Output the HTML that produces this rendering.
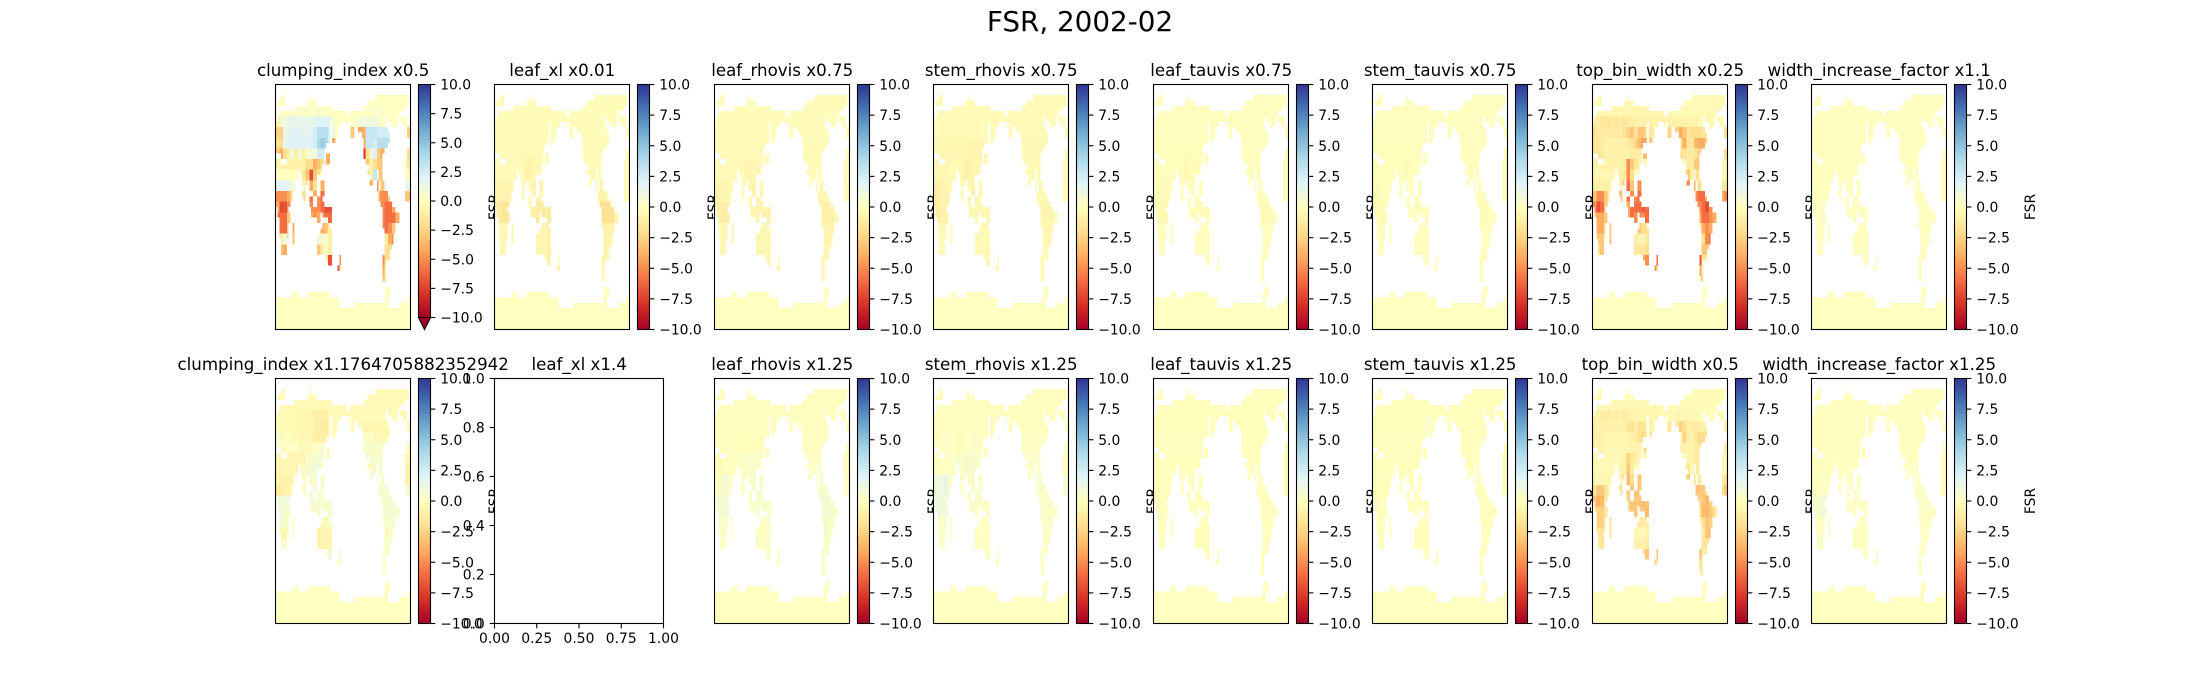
<!DOCTYPE html>
<html lang="en">
<head>
<meta charset="utf-8">
<title>FSR, 2002-02</title>
<style>
html,body{margin:0;padding:0;background:#fff;width:2200px;height:700px;overflow:hidden}
svg{display:block;position:absolute;left:0;top:0}
text{font-family:"DejaVu Sans","Liberation Sans",sans-serif;fill:#000}
</style>
</head>
<body>
<svg id="figure" width="2200" height="700" viewBox="0 0 2200 700" xmlns="http://www.w3.org/2000/svg">
<defs>
<linearGradient id="rdylbu" x1="0" y1="1" x2="0" y2="0">
<stop offset="0" stop-color="#a50026"/><stop offset="0.1" stop-color="#d73027"/><stop offset="0.2" stop-color="#f46d43"/><stop offset="0.3" stop-color="#fdae61"/><stop offset="0.4" stop-color="#fee090"/><stop offset="0.5" stop-color="#ffffbf"/><stop offset="0.6" stop-color="#e0f3f8"/><stop offset="0.7" stop-color="#abd9e9"/><stop offset="0.8" stop-color="#74add1"/><stop offset="0.9" stop-color="#4575b4"/><stop offset="1" stop-color="#313695"/>
</linearGradient>
</defs>
<text x="1080" y="31" text-anchor="middle" font-size="27.8">FSR, 2002-02</text>
</svg>
<script>
const panelTitles=["clumping_index x0.5","leaf_xl x0.01","leaf_rhovis x0.75","stem_rhovis x0.75","leaf_tauvis x0.75","stem_tauvis x0.75","top_bin_width x0.25","width_increase_factor x1.1","clumping_index x1.1764705882352942","leaf_xl x1.4","leaf_rhovis x1.25","stem_rhovis x1.25","leaf_tauvis x1.25","stem_tauvis x1.25","top_bin_width x0.5","width_increase_factor x1.25"];
const colorbarTicks=[10,7.5,5,2.5,0,-2.5,-5,-7.5,-10];
const emptyAxisTicks=[0,0.25,0.5,0.75,1];
const emptyAxisYTicks=[0,0.2,0.4,0.6,0.8,1];
const colormapStops=["#a50026","#d73027","#f46d43","#fdae61","#fee090","#ffffbf","#e0f3f8","#abd9e9","#74add1","#4575b4","#313695"];
const landRuns=[[],[],[3,5,18,19,53,71],[1,5,17,22,49,71],[10,30,47,69],[2,38,40,66],[1,59,60,65,66,70],[0,29,30,35,38,39,40,59,62,65,68,70],[0,29,30,33,40,42,44,60,70,72],[0,29,30,33,40,42,46,61,70,72],[0,29,30,32,47,61],[0,27,47,60],[0,26,47,58,70,72],[3,26,27,29,47,57,70,72],[0,3,6,26,27,29,48,57,69,72],[0,25,50,57,69,72],[0,12,13,25,49,54,55,57,69,72],[0,12,14,22,51,54,55,57,69,72],[0,10,14,17,18,22,24,26,50,52,54,55,56,58,69,72],[0,10,15,16,18,22,24,26,54,55,56,58,69,72],[0,9,14,16,20,22,24,26,55,60,69,72],[0,9,15,16,18,20,22,25,55,61,69,72],[0,8,18,20,22,26,56,62],[1,7,19,30,57,64],[1,8,19,24,25,30,57,66],[2,8,22,24,28,30,57,66],[2,7,9,10,25,29,57,64],[2,7,9,10,24,30,58,64],[2,7,9,10,22,30,58,63],[3,6,9,10,22,30,58,63],[3,6,22,30,58,62],[3,6,22,30,58,61],[27,30,34,35,57,61],[28,30,34,35,57,59],[33,35,57,59],[57,59],[57,59],[],[59,61],[9,12,17,29,58,61],[0,34,58,60,70,72],[0,34,42,60,66,72],[0,72],[0,72],[0,72],[0,72]];

const clumpingHalf=[
[],
[-.3,-.3,0,0,.3,.3,.3,.3,.3,.3,.3,.3,.3,.3,0,0,0,0,0,0,0,0,0,0,0,.3,.3,.3,.3],
[-1,1,1,1.5,1.5,1.5,1.5,1.5,1.5,1.5,1.5,2,2,2,1.5,.5,0,0,0,0,0,.5,1,1,1,1,1,1],
[-2.5,-2.5,1.5,1.5,2,2,2,1.5,1.5,2,2.5,3.5,3.5,3.5,2.5,1,-.3,0,0,0,-3,0,-4,-4,3,3,3,2.5,2.5,2.5,2.5,0,0,0,0,-2.5],
[-2,-2,1.5,2,2,2,2,2,2,2,2.5,4,4.5,4,2.5,-4,0,0,0,0,0,0,0,-4,3,3,2.5,3.5,3.5,3.5,3,1,0,0,0,0],
[-3,-4,-2,-1,1,-1,1,-1,.5,1,1,2.5,2.5,-4,-4,0,0,0,0,0,0,0,0,-8,-2,1,2,-3,-4,0,0,0,0,0,0,-2],
[-1,-.5,-1,-1,-1,-1,-1,-1,-2,-2,-4,-3,-2,-4,-4,0,0,0,0,0,0,0,0,0,-3,-1,-2,-3,-3,0,0,0,0,0,0,-1.5],
[0,0,0,0,0,0,-.5,-1.5,-3,-7,-3,-2,0,0,0,0,0,0,0,0,0,0,0,0,-2,-1,3,-3,-3,0,0,0,0,0,0,0],
[2,2,2,1.5,1,1,0,-.5,-2,-4,-2,0,-4,0,0,0,0,0,0,0,0,0,0,0,0,-4,0,-5,-3,-3,0,0,0,0,1.5,1.5],
[-5,-5,-5,-4,-2,.5,0,-2,0,-6,-4,-5,-6,0,0,0,0,0,0,0,0,0,0,0,0,0,0,-4,-5,-5,-3,0,0,0,-3,-3],
[-4,-7,-7,-5,-1,0,0,0,0,-5,-5,-5,-6,-7,-7,0,0,0,0,0,0,0,0,0,0,0,0,0,-5,-6,-6,-4],
[-6,-6,-6,-3,0,0,0,0,0,-4,-5,-4,-5,-6,-6,0,0,0,0,0,0,0,0,0,0,0,0,0,-5,-6,-6,-6,-4],
[0,-6,-6,-3,-4,0,0,0,0,0,0,0,-4,-3,-1,0,0,0,0,0,0,0,0,0,0,0,0,0,-5,-6,-5,-3],
[0,-1,1,-2,-3,0,0,0,0,0,0,1,.5,.5,-1,0,0,0,0,0,0,0,0,0,0,0,0,0,0,-1,-4,-5],
[0,-3,-4,0,0,0,0,0,0,0,0,-3,-1,.5,-1,0,0,0,0,0,0,0,0,0,0,0,0,0,0,-2,-2],
[0,0,0,0,0,0,0,0,0,0,0,0,0,-2,-7,0,0,-5,0,0,0,0,0,0,0,0,0,0,-5,-2,-2],
[0,0,0,0,0,0,0,0,0,0,0,0,0,0,0,0,-7,-1,0,0,0,0,0,0,0,0,0,0,-4,-1],
[0,0,0,0,0,0,0,0,0,0,0,0,0,0,0,0,0,0,0,0,0,0,0,0,0,0,0,0,-3,-2]];

const topBinQuarter=[
[],
[-.6,-.6,-.6,-.6,-.6,-.6,-.6,-.6,-.6,-.6,-.6,-.6,-.6,-.6,-.6,-.6,-.6,-.6,-.4],
[-1.2,-1.2,-1.7,-1.7,-1.7,-1.2,-1.7,-1.2,-1.7,-1.2,-1.2,-.8,-.8,-.8,-.8,-.8,-.8,-.8,-.8,-.8,-.8,-.8,-.8,-.8,-.8,-.8,-.8,-.8],
[-1.7,-1.2,-1.2,-1.2,-1.2,-1.2,-1.2,-1.2,-1.7,-2.5,-3,-1.7,-3,-3,-1.5,-1.5,-1,,,,-2.5,-2,-2.5,-4,-3,-1.7,-2,-2,-2,-1.7,-1.7,,,,,-2],
[-1.7,-1.7,-1.2,-.8,-.8,-.8,-.8,-.8,-.8,-1.2,-1.7,-2.5,-3.5,-4.5,-3.5,-3,,,,,,,,-2,-4,-1.7,-1.5,-3.5,-4,-4,-3],
[-1.7,-1.7,-1.2,-.8,-.8,-.8,-.8,-.8,-.8,-.8,-1.2,-1.2,-1.2,-3.5,-3.5,,,,,,,,,-2,-1.7,-1.2,-1.2,-1.7,-2.5,,,,,,,-2],
[-.8,-.8,-.8,-.8,-.8,-.8,-.8,-.8,-1.2,-5,-3,-1.7,-1.2,,,,,,,,,,,,,-1.2,-1.2,-3,-3,,,,,,-.5,-.5],
[-.5,-.5,-.5,-.5,-.5,-.5,-.5,-1,-1.5,-5,-2,,,,,,,,,,,,,,-.5,-3,-1,-2,-2,,,,,,-.5,-.5],
[-1,-1,-1,-1,-1,-1,,-1,-3,-6,-3,,-5,,,,,,,,,,,,,-5,,-4,-2,-2,,,,,-1.5,-1.5],
[-3,-5,-5,-3,-1.5,-1,,-3,,-6,-5,-5,-6,,,,,,,,,,,,,,,-5,-6,-6,-4,,,,-4,-5],
[-5,-7,-6,-3,,,,,,-4,-6,-6,-6,-6.5,-6,,,,,,,,,,,,,,-5,-6,-7,-5],
[-3,-4,-4,-3,,,,,,-4,-6,-5,-5,-5,-6,,,,,,,,,,,,,,-4,-6,-6,-5,-4],
[,-4,-4,-2,-3,,,,,,,,-3,-2,-2,,,,,,,,,,,,,,-1,-4,-5,-4],
[,-3,-3,-1,-3,,,,,,,-1,-.7,-.7,-1.5,,,,,,,,,,,,,,,-2,-5,-6],
[,-2,-3,,,,,,,,,-1.5,-1.5,-1.5,-2,,,,,,,,,,,,,,,-3,-3],
[,,,,,,,,,,,,,-4,-5,,,-6,,,,,,,,,,,-7,-1.5,-2],
[,,,,,,,,,,,,,,,,-5,-1,,,,,,,,,,,-4,-1],
[,,,,,,,,,,,,,,,,,,,,,,,,,,,,-1,-3]];

const topBinHalf=[
[],
[-.5,-.5,-.5,-.5,-.5,-.5,-.5,-.5,-.5,-.5,-.5,-.5,-.5,-.5,-.5,-.5,-.5,-.5,-.3],
[-.8,-.8,-1.2,-1.2,-1.2,-.8,-1.2,-.8,-1.2,-.8,-.8,-.6,-.6,-.6,-.6,-.6,-.6,-.4,-.4,-.4,-.4,-.4,-.5,-.5,-.5,-.5,-.5,-.5],
[-1,-.8,-.8,-.8,-.8,-.8,-.8,-.8,-1,-1.5,-1.7,-1,-1.7,-1.7,-.8,-.8,-.5,,,,-1.5,-1,-1.2,-2.5,-2,-1,-1.2,-1.2,-1.2,-1,-1,,,,,-1],
[-1,-1,-.8,-.5,-.5,-.5,-.5,-.5,-.5,-.8,-1,-1.2,-1.7,-2.2,-1.7,-1.5,,,,,,,,-1,-2.5,-1,-.8,-1.7,-2.2,-2.2,-1.7],
[-1,-1,-.8,-.5,-.5,-.5,-.5,-.5,-.5,-.5,-.8,-.8,-.8,-1.7,-1.7,,,,,,,,,-1,-1,-.8,-.8,-1,-1.5,,,,,,,-1],
[-.5,-.5,-.5,-.5,-.5,-.5,-.5,-.5,-.8,-2.5,-1.5,-1,-.8,,,,,,,,,,,,,-.8,-.8,-1.5,-1.5,,,,,,-.4,-.4],
[-.4,-.4,-.4,-.4,-.4,-.4,-.4,-.7,-1,-3,-1.2,,,,,,,,,,,,,,-.4,-1.7,-.7,-1.2,-1.2,,,,,,-.4,-.4],
[-.6,-.6,-.6,-.6,-.6,-.6,,-.6,-2,-3.5,-2,,-3,,,,,,,,,,,,,-3,,-2,-1.2,-1.2,,,,,-1,-2],
[-1.7,-3,-3,-1.7,-1,-.6,,-1.7,,-3,-3,-3,-3,,,,,,,,,,,,,,,-3,-3,-3,-2,,,,-2,-3],
[-3,-4,-3.5,-1.7,,,,,,-2.5,-3,-3,-3,-3.5,-3,,,,,,,,,,,,,,-2.5,-3,-3.5,-2.5],
[-1.7,-2.5,-2.5,-1.7,,,,,,-2,-3,-3,-3,-3,-3.5,,,,,,,,,,,,,,-2,-3.5,-3.5,-3,-2],
[,-2.5,-2.5,-1.2,-1.7,,,,,,,,-1.7,-1.2,-1.2,,,,,,,,,,,,,,-.6,-2,-3,-2.5],
[,-1.7,-1.7,-.6,-1.7,,,,,,,-.6,-.4,-.4,-.8,,,,,,,,,,,,,,,-1.2,-3,-3.5],
[,-1.2,-1.7,,,,,,,,,-.8,-.8,-.8,-1.2,,,,,,,,,,,,,,,-1.7,-1.7],
[,,,,,,,,,,,,,-2,-3,,,-3,,,,,,,,,,,-3.5,-1,-1.2],
[,,,,,,,,,,,,,,,,-2.5,-.6,,,,,,,,,,,-2,-.6],
[,,,,,,,,,,,,,,,,,,,,,,,,,,,,-.6,-1.7]];

const clumpingHigh=[
[],
[-.3,-.4,-.4,-.4,-.4,-.4,-.4,-.4,,,,-.3,-.3,-.3,-.3],
[-.4,-.4,-.4,-.6,-.6,-1,-1,-.3,,,-.3,-.3,-.3,-.3,-.3],
[-.3,-.4,-.4,-.6,-.6,-1,-1.2,-.4,,,,-.5,-.6,-.6,-.6],
[.5,-.1,-.4,-.5,-.5,-1,-1,-.3,,,,-.3,.3,-.4,-.4],
[.5,-.1,.2,-.3,-.3,.2,.5,,,,,.3,.4,.4,.3,,,-.3],
[-.6,-.6,-.6,-.6,.4,.5,.6,,,,,,.5,.5,.5,,,-.5],
[-.6,-.6,-.6,-.3,.7,.8,,,,,,,,.8,.5,,,-.8],
[-.8,-.8,-.6,,.5,.6,.6,,,,,,.8,.8,.5,,,-.8],
[-1.2,-.8,-.3,,.5,.6,.6,,,,,,,.6,.7,.5,,.7],
[1,1,-.1,,.5,.5,.5,.5,,,,,,,.6,.6],
[1,.5,-.1,,,.5,.5,.5,,,,,,,.6,.7,.6],
[.7,.3,-.2,,,,-.4,.5,,,,,,,.4,.6],
[-.6,-.6,.3,,,-1,-.7,-.6,,,,,,,,.5],
[.3,.3,,,,-.7,-.7,-.5,,,,,,,.3,.5],
[,,,,,,.2,1,.5,,,,,,.3],
[,,,,,,,.3,-.3,,,,,,.2],
[,,,,,,,,,,,,,,.2]];

const leafXlLow=[
[],
[-.2,-.2,-.2,-.2,-.2,-.2,-.2,-.2,,,,-.2,-.2,-.2,-.2],
[-.3,-.3,-.3,-.3,-.3,-.3,-.3,,,,,,-.2,-.2,-.2],
[-.3,-.3,-.3,-.3,-.8,-.5,-.3,,,,,,-.3,-.3,-.3],
[-.7,-.7,-.7,-.3,-.5,-.7,-.7,,,,,,,-.7,-.8,-.3,,-.3],
[-1.2,-1.6,-.4,,-.5,-1.2,-1.2,-1.2,,,,,,,-1.8,-1.8,-.7],
[-.3,-.5,-.5,,,-.6,-.6,-.8,,,,,,,-.8,-.8],
[-.5,-.5,,,,-.6,-.6,-.8,,,,,,,-.8,-.5],
[,,,,,,,-.5,-.8,,,,,,-.3]];

const leafRhovisLow=[
[],
[-.2,-.2,-.2,-.2,-.2,-.2,-.2,,,,,-.2,-.2,-.2,-.2],
[-.3,-.3,-.3,-.3,-.3,-.3,-.3,,,,,,-.3,-.3,-.3],
[-.3,-.3,-.3,-.3,-.7,-.5,-.3,,,,,,-.3,-.3,-.3],
[-.7,-.5,-.4,-.3,-.5,-.7,-.5,,,,,,,-.5,-.5,-.3,,-.3],
[-.9,-1.1,-.3,,-.4,-.7,-.7,-.7,,,,,,,-.9,-.9,-.5],
[-.3,-.5,-.5,,,-.5,-.5,-.5,,,,,,,-.7,-.7],
[-.5,-.5,,,,-.5,-.5,-.6,,,,,,,-.5,-.5],
[,,,,,,,-.5,-.7,,,,,,-.5]];

const stemRhovisLow=[
[],
[-.3,-.4,-.4,-.4,-.4,-.4,-.3,,,,,-.3,-.3,-.3,-.3],
[-.5,-.5,-.6,-.6,-.6,-.7,-.6,,,,,,-.5,-.5,-.4],
[-.5,-.5,-.4,-.4,-.8,-.6,-.5,,,,,,-.4,-.4,-.4],
[-1,-.7,-.5,-.3,-.5,-.7,-.5,,,,,,,-.5,-.5,-.3,,-.4],
[-1.2,-.8,-.3,,-.4,-.5,-.5,-.5,,,,,,,-.7,-.7,-.4],
[-.3,-.4,-.4,,,-.4,-.4,-.4,,,,,,,-.4,-.5],
[-.3,-.3,,,,-.4,-.4,-.5,,,,,,,-.4,-.4],
[,,,,,,,-.4,-.5,,,,,,-.4]];

const leafRhovisHigh=[
[],
[,,,,,,,,,,,,,,],
[,,,-.15,-.15,-.15,,,,,,,-.1,-.1,-.1],
[-.2,-.1,-.1,.1,.4,.4,.2,,,,,,.2,.2,.1],
[.2,.6,.2,,.4,.5,.5,,,,,,,.4,.5,.2,,.2],
[.7,.8,.2,,.1,.5,.5,.3,,,,,,,.7,.7,.3],
[.3,.3,.2,,,.1,.1,.4,,,,,,,.5,.4],
[.2,.2,,,,0,.2,.5,,,,,,,.5,.5],
[,,,,,,,.5,.3,,,,,,.3]];

const stemRhovisHigh=[
[],
[-.1,-.1,,,,,,,,,,,,,],
[,.2,.2,-.15,.2,.3,-.1,,,,,,.1,.2,.1],
[-.15,0,.2,.4,.5,.5,.4,,,,,,.3,.4,.3],
[1,1.3,.3,,.4,.3,.3,,,,,,,.3,.3,.2,,.7],
[1.1,.9,.3,,.1,.3,.3,.3,,,,,,,.4,.4,.2],
[.3,.3,.2,,,0,0,.1,,,,,,,.3,.3],
[.2,.2,,,,-.1,0,0,,,,,,,.2,.2],
[,,,,,,,0,-.1,,,,,,.1]];

const leafTauvisLow=[
[],
[],
[-.15,-.15,-.15,-.15,-.15,-.15,-.15],
[-.15,-.15,-.15,-.15,-.4,-.2,-.15],
[-.2,-.2,-.15],
[-.3,-.4,-.15,,,-.2,-.2,-.2,,,,,,,-.3,-.3],
[],[],[]];

const stemTauvisLow=[
[],
[],
[-.15,-.15,-.15,-.15,-.15,-.15,-.15],
[-.15,-.15,-.15,-.15,-.25,-.15,-.15],
[-.2,-.15,-.15],
[-.2,-.3,-.15,,,-.15,-.15,-.15,,,,,,,-.2,-.2],
[],[],[]];

const widthFactorLow=[
[],
[],
[],
[],
[-.1,-.05,-.1],
[.1,.3,-.05,,,.1,.1,.1,,,,,,,.1,.1],
[],[],[]];

const leafTauvisHigh=[
[],
[],
[-.1,-.1,-.1,-.1,-.1,-.1,-.1],
[],
[],
[-.1,-.1,-.05,,,,,,,,,,,,-.1,-.1],
[],[],[]];

const stemTauvisHigh=[
[],
[],
[-.1,-.1,-.1,-.1,-.1,-.1,-.1],
[],
[],
[-.1,-.05,-.05,,,,,,,,,,,,-.1,-.1],
[],[],[]];

const widthFactorHigh=[
[],
[],
[-.05,-.05,-.05,-.05,-.05,-.05,-.05],
[-.05,-.05,0,0,.1,.1,.1,,,,,,0,0,0],
[.1,.1,0,,.2,.2,.2,,,,,,,.2,.2],
[.4,.7,.1,,.1,.2,.2,.2,,,,,,,.3,.3],
[.2,.2,.1,,,0,.1,.2,,,,,,,.2,.2],
[.1,.1,,,,-.05,.1,.2,,,,,,,.2,.2],
[]];

const panelFields=[clumpingHalf,leafXlLow,leafRhovisLow,stemRhovisLow,leafTauvisLow,stemTauvisLow,topBinQuarter,widthFactorLow,clumpingHigh,null,leafRhovisHigh,stemRhovisHigh,leafTauvisHigh,stemTauvisHigh,topBinHalf,widthFactorHigh];
const fieldColumns=[36,18,18,18,18,18,36,18,18,0,18,18,18,18,36,18];
const fieldBase=[0,-.2,-.25,-.3,-.1,-.1,-.4,-.05,-.3,0,-.1,-.1,-.08,-.08,-.25,-.05];
const antarcticValue=0;

const SVGNS="http://www.w3.org/2000/svg";
const fig=document.getElementById("figure");
const GRID_ROWS=46,GRID_COLS=72,FIELD_FIRST_ROW=2,FIELD_ROW_COUNT=36;
const AXES_W=135,AXES_H=245,TICK=4.86,PAD=4.86;
const ROW_TOP=[84,378];
function panelLeft(i){return Math.round(275.7+219.5*i)-1}
function mk(tag,attrs,parent){const e=document.createElementNS(SVGNS,tag);for(const k in attrs)e.setAttribute(k,attrs[k]);(parent||fig).appendChild(e);return e}
function hexToRgb(h){return [parseInt(h.slice(1,3),16),parseInt(h.slice(3,5),16),parseInt(h.slice(5,7),16)]}
function colorFor(v){
  let t=(Math.max(-10,Math.min(10,v))+10)/20*(colormapStops.length-1);
  const a=Math.min(Math.floor(t),colormapStops.length-2),f=t-a;
  const p=hexToRgb(colormapStops[a]),q=hexToRgb(colormapStops[a+1]);
  return "rgb("+p.map((c,n)=>Math.round(c+(q[n]-c)*f)).join(",")+")";
}
function valueAt(panel,r,c){
  if(r<FIELD_FIRST_ROW||r>=FIELD_FIRST_ROW+FIELD_ROW_COUNT)return antarcticValue;
  const rows=panelFields[panel];
  const row=rows[Math.floor((r-FIELD_FIRST_ROW)*rows.length/FIELD_ROW_COUNT)]||[];
  const v=row[Math.floor(c*fieldColumns[panel]/GRID_COLS)];
  return v===undefined?fieldBase[panel]:v;
}
function fmtTick(v,dec){return (v<0?"\u2212":"")+Math.abs(v).toFixed(dec)}

function drawHeatmap(panel,left,top){
  const g=mk("g",{});
  
  
  const bg=mk("rect",{x:left,y:top,width:AXES_W,height:AXES_H,fill:"#fff"},g);
  
  
  const xCol=c=>left+.5+c*AXES_W/GRID_COLS,yRow=r=>top+.5+r*AXES_H/GRID_ROWS;
  landRuns.forEach((runs,r)=>{
    for(let n=0;n<runs.length;n+=2){
      for(let c=runs[n];c<runs[n+1];c++){
        const cell=mk("rect",{x:xCol(c),y:yRow(r),width:AXES_W/GRID_COLS,height:AXES_H/GRID_ROWS,fill:colorFor(valueAt(panel,r,c)),"shape-rendering":"crispEdges"},g);
        
        
      }
    }
  });
  const frame=mk("rect",{x:left+.5,y:top+.5,width:AXES_W,height:AXES_H,fill:"none",stroke:"#000","stroke-width":1.1},g);
  
  
}
function drawColorbar(panel,left,top,extendLow){
  const cbL=left+143,cbW=12,barH=extendLow?233:AXES_H;
  const yVal=v=>top+.5+(10-v)/20*barH;
  const g=mk("g",{});
  
  
  const bar=mk("rect",{x:cbL+.5,y:top+.5,width:cbW,height:barH,fill:"url(#rdylbu)",stroke:"#000","stroke-width":1.1},g);
  
  
  if(extendLow){
    const tri=mk("polygon",{points:(cbL+.5)+","+(top+.5+barH)+" "+(cbL+cbW+.5)+","+(top+.5+barH)+" "+(cbL+cbW/2+.5)+","+(top+AXES_H+.5),fill:"#a50026",stroke:"#000","stroke-width":1.1},g);
    
    
  }
  colorbarTicks.forEach(v=>{
    const y=yVal(v);
    const t=mk("line",{x1:cbL+cbW+.5,x2:cbL+cbW+.5+TICK,y1:y,y2:y,stroke:"#000","stroke-width":1.1},g);
    
    
    const l=mk("text",{x:cbL+cbW+.5+TICK+PAD,y:y+5,"font-size":13.89},g);
    l.textContent=fmtTick(v,1);
    
    
  });
  if(panel!==undefined){
    const lx=cbL+cbW+69,ly=top+AXES_H/2+.5;
    const lab=mk("text",{x:lx,y:ly,"font-size":13.89,"text-anchor":"middle",transform:"rotate(-90 "+lx+" "+ly+")"},g);
    lab.textContent="FSR";
    
    
  }
}
function drawEmptyAxes(left,top){
  const W=169,g=mk("g",{});
  
  
  const bg=mk("rect",{x:left+.5,y:top+.5,width:W,height:AXES_H,fill:"#fff",stroke:"#000","stroke-width":1.1},g);
  
  
  const xS=v=>left+.5+v*W,yS=v=>top+.5+AXES_H-v*AXES_H;
  emptyAxisTicks.forEach(v=>{
    const t=mk("line",{x1:xS(v),x2:xS(v),y1:top+AXES_H+.5,y2:top+AXES_H+.5+TICK,stroke:"#000","stroke-width":1.1},g);
    
    
    const l=mk("text",{x:xS(v),y:top+AXES_H+20,"font-size":13.89,"text-anchor":"middle"},g);
    l.textContent=v.toFixed(2);
    
    
  });
  emptyAxisYTicks.forEach(v=>{
    const t=mk("line",{x1:left+.5,x2:left+.5-TICK,y1:yS(v),y2:yS(v),stroke:"#000","stroke-width":1.1},g);
    
    
    const l=mk("text",{x:left+.5-TICK-PAD,y:yS(v)+5,"font-size":13.89,"text-anchor":"end"},g);
    l.textContent=v.toFixed(1);
    
    
  });
}
panelTitles.forEach((title,p)=>{
  const col=p%8,rowIndex=p<8?0:1,left=panelLeft(col),top=ROW_TOP[rowIndex];
  const isEmpty=panelFields[p]===null;
  if(isEmpty){drawEmptyAxes(left,top)}
  else{
    drawHeatmap(p,left,top);
    drawColorbar(p,left,top,p===0);
  }
  const w=isEmpty?169:AXES_W;
  const t=mk("text",{x:left+w/2+.7,y:top-8,"font-size":16.67,"text-anchor":"middle"});
  t.textContent=title;
  
  
});
</script>
</body>
</html>
